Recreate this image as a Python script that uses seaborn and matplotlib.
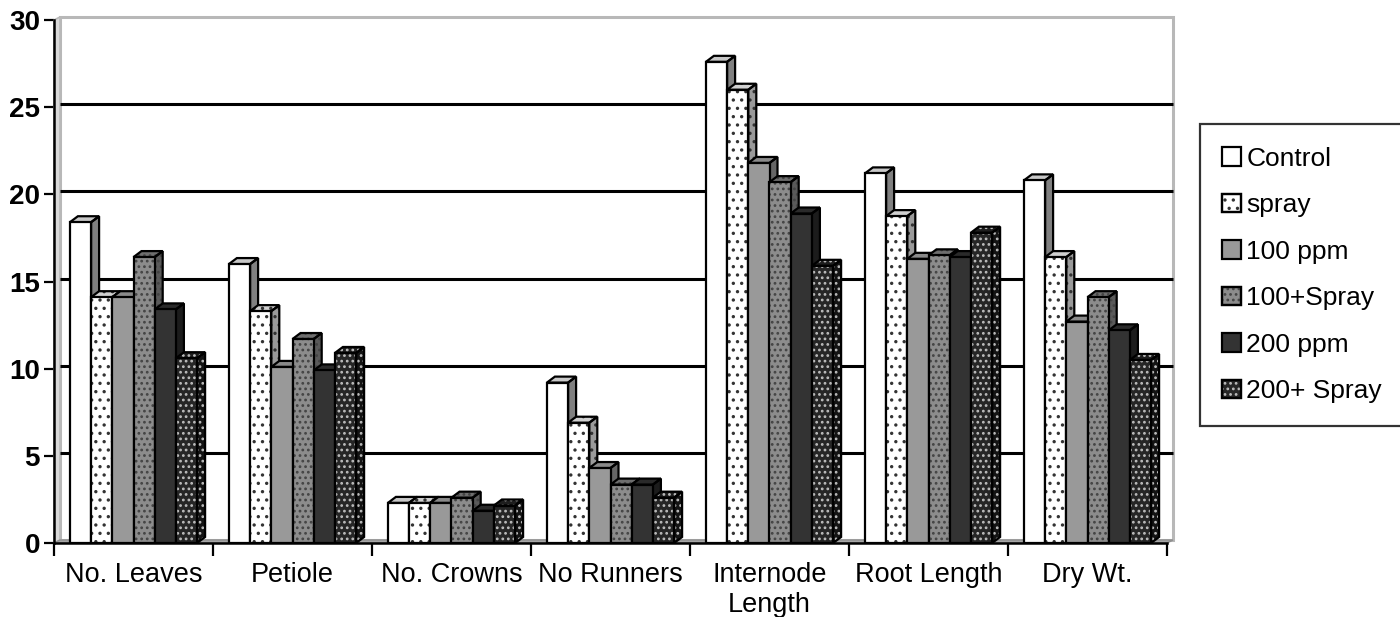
import numpy as np
import pandas as pd
import matplotlib
matplotlib.use("Agg")
import matplotlib.pyplot as plt
import seaborn as sns
from matplotlib.patches import Polygon, Rectangle, Patch
from matplotlib.legend_handler import HandlerTuple

# ---- data -------------------------------------------------------------
categories = ["No. Leaves", "Petiole", "No. Crowns", "No Runners",
              "Internode\nLength", "Root Length", "Dry Wt."]
treatments = ["Control", "spray", "100 ppm", "100+Spray", "200 ppm", "200+ Spray"]

control    = [18.4, 16.0, 2.3, 9.2, 27.6, 21.2, 20.8]
spray      = [14.1, 13.3, 2.3, 6.9, 26.0, 18.75, 16.4]
ppm100     = [14.1, 10.1, 2.3, 4.3, 21.8, 16.3, 12.7]
ppm100_sp  = [16.4, 11.7, 2.6, 3.35, 20.7, 16.5, 14.1]
ppm200     = [13.4, 9.9, 1.85, 3.35, 18.9, 16.4, 12.2]
ppm200_sp  = [10.6, 10.9, 2.15, 2.6, 15.9, 17.8, 10.5]

yticks = [0, 5, 10, 15, 20, 25, 30]

series = [control, spray, ppm100, ppm100_sp, ppm200, ppm200_sp]
df = pd.DataFrame({
    "category": np.repeat([categories], len(treatments), axis=0).ravel(),
    "treatment": np.repeat(treatments, len(categories)),
    "value": np.concatenate(series),
})

# ---- styles: front face, side face, top face, hatch, hatch colour ------
styles = {
    "Control":    dict(front="#ffffff", side="#808080", top="#c8c8c8", hatch=None,  hc="black"),
    "spray":      dict(front="#ffffff", side="#9a9a9a", top="#d0d0d0", hatch="..",  hc="#333333"),
    "100 ppm":    dict(front="#999999", side="#666666", top="#8a8a8a", hatch=None,  hc="black"),
    "100+Spray":  dict(front="#8c8c8c", side="#5a5a5a", top="#6e6e6e", hatch="...", hc="#444444"),
    "200 ppm":    dict(front="#333333", side="#1c1c1c", top="#2a2a2a", hatch=None,  hc="black"),
    "200+ Spray": dict(front="#262626", side="#141414", top="#1e1e1e", hatch="...", hc="#bdbdbd"),
}

sns.set_style("white")
plt.rcParams["font.family"] = ["Liberation Sans", "DejaVu Sans"]
plt.rcParams["hatch.linewidth"] = 1.2
for key in ("text.color", "axes.labelcolor", "xtick.color", "ytick.color"):
    plt.rcParams[key] = "black"

W, H = 1400, 617
fig = plt.figure(figsize=(W / 100, H / 100), dpi=100)
ax_left, ax_right = 54, 1167
ax_bottom, ax_top = 543, 20
ax = fig.add_axes([ax_left / W, (H - ax_bottom) / H,
                   (ax_right - ax_left) / W, (ax_bottom - ax_top) / H])

sns.barplot(data=df, x="category", y="value", hue="treatment",
            order=categories, hue_order=treatments,
            palette=[styles[t]["front"] for t in treatments],
            saturation=1, width=0.8, gap=0, edgecolor="black",
            linewidth=1.6, legend=False, ax=ax, zorder=3)

ymax = 30
ax.set_xlim(-0.5, len(categories) - 0.5)
ax.set_ylim(0, ymax)

# pixel -> data conversion for the depth effect
px_x = (ax_right - ax_left) / len(categories)
px_y = (ax_bottom - ax_top) / ymax
bar_dx, bar_dy = 8 / px_x, 6 / px_y
wall_dx, wall_dy = 6 / px_x, 3 / px_y
x0, x1 = ax.get_xlim()

# back wall, side wall, floor and gridlines
wall = Polygon([(x0 + wall_dx, wall_dy), (x0 + wall_dx, ymax + wall_dy),
                (x1 + wall_dx, ymax + wall_dy), (x1 + wall_dx, wall_dy)],
               closed=True, facecolor="white", edgecolor="#b8b8b8",
               linewidth=2.2, zorder=0.5, clip_on=False)
ax.add_patch(wall)
side_wall = Polygon([(x0, 0), (x0, ymax), (x0 + wall_dx, ymax + wall_dy),
                     (x0 + wall_dx, wall_dy)], closed=True,
                    facecolor="#d9d9d9", edgecolor="#b8b8b8", linewidth=1.2,
                    zorder=0.6, clip_on=False)
ax.add_patch(side_wall)
floor = Polygon([(x0, 0), (x1, 0), (x1 + wall_dx, wall_dy), (x0 + wall_dx, wall_dy)],
                closed=True, facecolor="#a6a6a6", edgecolor="#909090",
                linewidth=1.0, zorder=0.7, clip_on=False)
ax.add_patch(floor)
for yv in yticks[1:-1]:
    ax.plot([x0 + wall_dx, x1 + wall_dx], [yv + wall_dy, yv + wall_dy],
            color="black", linewidth=2.2, zorder=0.8, clip_on=False,
            solid_capstyle="butt")

# faces of each bar: hatch layer plus black outline
for j, (name, cont) in enumerate(zip(treatments, ax.containers)):
    st = styles[name]
    z = 3 + 0.1 * j
    for bar in cont:
        bx, bw, bh = bar.get_x(), bar.get_width(), bar.get_height()
        bar.set_zorder(z + 0.05)
        bar.set_linewidth(0)
        top = [(bx, bh), (bx + bar_dx, bh + bar_dy),
               (bx + bw + bar_dx, bh + bar_dy), (bx + bw, bh)]
        side = [(bx + bw, 0), (bx + bw, bh), (bx + bw + bar_dx, bh + bar_dy),
                (bx + bw + bar_dx, bar_dy)]
        for pts, fc in ((top, st["top"]), (side, st["side"])):
            ax.add_patch(Polygon(pts, closed=True, facecolor=fc,
                                 edgecolor=st["hc"], hatch=st["hatch"],
                                 linewidth=0, zorder=z, clip_on=False))
            ax.add_patch(Polygon(pts, closed=True, fill=False,
                                 edgecolor="black", linewidth=1.6,
                                 zorder=z + 0.01, clip_on=False,
                                 joinstyle="miter"))
        if st["hatch"]:
            ax.add_patch(Rectangle((bx, 0), bw, bh, facecolor="none",
                                   edgecolor=st["hc"], hatch=st["hatch"],
                                   linewidth=0, zorder=z + 0.06))
        ax.add_patch(Rectangle((bx, 0), bw, bh, fill=False,
                               edgecolor="black", linewidth=1.6,
                               zorder=z + 0.07, joinstyle="miter"))

# axes decoration
for s in ("top", "right"):
    ax.spines[s].set_visible(False)
for s in ("left", "bottom"):
    ax.spines[s].set_color("black")
    ax.spines[s].set_linewidth(1.8)
    ax.spines[s].set_zorder(10)

ax.set_yticks(yticks)
ax.set_yticklabels([str(v) for v in yticks], fontsize=20, fontweight="bold",
                   color="black")
ax.tick_params(axis="y", direction="out", length=7, width=1.6, pad=3,
               left=True, color="black", labelcolor="black")
ax.set_xticks(range(len(categories)))
ax.set_xticklabels(categories, fontsize=19.5, linespacing=1.2, color="black")
ax.set_xticks(np.arange(-0.5, len(categories)), minor=True)
ax.tick_params(axis="x", which="major", length=0, pad=14, labelcolor="black")
ax.tick_params(axis="x", which="minor", direction="out", length=9,
               width=1.6, bottom=True, color="black")
ax.set_xlabel("")
ax.set_ylabel("")
ax.grid(False)

# legend with square swatches
handles = []
for name in treatments:
    st = styles[name]
    base = Patch(facecolor=st["front"], edgecolor="black", linewidth=1.6)
    if st["hatch"]:
        hatch = Patch(facecolor="none", edgecolor=st["hc"], hatch=st["hatch"],
                      linewidth=0)
        outline = Patch(facecolor="none", edgecolor="black", linewidth=1.6)
        handles.append((base, hatch, outline))
    else:
        handles.append(base)
leg = fig.legend(handles, treatments, loc="center left",
                 bbox_to_anchor=(1200 / W, 1 - 275 / H),
                 handler_map={tuple: HandlerTuple(ndivide=1, pad=0)},
                 fontsize=19, frameon=True, fancybox=False,
                 handlelength=0.7, handleheight=0.7, handletextpad=0.2,
                 labelspacing=0.85, borderpad=0.85, borderaxespad=0,
                 labelcolor="black")
leg.get_frame().set_edgecolor("black")
leg.get_frame().set_linewidth(1.6)

fig.savefig("out.png", dpi=100)
